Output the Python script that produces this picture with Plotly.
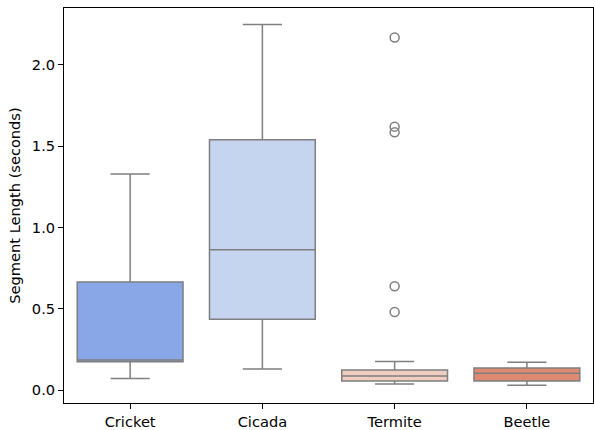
import plotly.graph_objects as go

categories = ["Cricket", "Cicada", "Termite", "Beetle"]
q1 = [0.174, 0.435, 0.055, 0.055]
median = [0.185, 0.863, 0.086, 0.103]
q3 = [0.665, 1.54, 0.123, 0.135]
lower_whisker = [0.07, 0.129, 0.037, 0.029]
upper_whisker = [1.329, 2.248, 0.176, 0.170]
colors = ["#89a6e6", "#c6d5ef", "#efcdbf", "#de8a73"]
outlier_cat = ["Termite"] * 5
outlier_vals = [2.168, 1.62, 1.585, 0.638, 0.48]
yticks = [0.0, 0.5, 1.0, 1.5, 2.0]

line_col = "#7f7f7f"
fig = go.Figure()
for i, c in enumerate(categories):
    fig.add_trace(go.Box(
        x=[c], q1=[q1[i]], median=[median[i]], q3=[q3[i]],
        lowerfence=[lower_whisker[i]], upperfence=[upper_whisker[i]],
        fillcolor=colors[i], line=dict(color=line_col, width=1.5),
        width=0.8, whiskerwidth=0.37, boxpoints=False, showlegend=False,
    ))
fig.add_trace(go.Scatter(
    x=outlier_cat, y=outlier_vals, mode="markers",
    marker=dict(symbol="circle-open", size=9, color=line_col, line=dict(width=1.5, color=line_col)),
    showlegend=False,
))

font = dict(family="DejaVu Sans", size=14.6, color="black")
axis_common = dict(showline=True, mirror=True, linecolor="black", linewidth=1,
                   ticks="outside", ticklen=5, tickcolor="black", showgrid=False,
                   zeroline=False, automargin=False, tickfont=font)
fig.update_layout(
    width=594, height=430,
    margin=dict(l=64, r=1, t=8, b=27),
    plot_bgcolor="white", paper_bgcolor="white",
    xaxis=dict(range=[-0.5, 3.5], categoryorder="array", categoryarray=categories, **axis_common),
    yaxis=dict(range=[-0.08, 2.35], tickvals=yticks, tickformat=".1f",
               title=dict(text="Segment Length (seconds)", font=font, standoff=7),
               **axis_common),
)
fig.write_html("out.html", config={"displayModeBar": False},
               post_script="document.body.style.margin='0';document.body.style.overflow='hidden';")
